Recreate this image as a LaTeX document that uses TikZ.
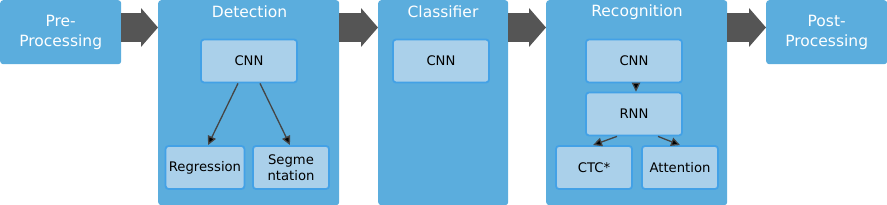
\documentclass[tikz,border=0pt]{standalone}
\usepackage{fontspec}
\setmainfont{DejaVu Sans}
\usetikzlibrary{arrows.meta,positioning,calc}
\definecolor{panelblue}{HTML}{5BADDD}
\definecolor{innerfill}{HTML}{AAD0EA}
\definecolor{innerline}{HTML}{43A1E6}
\definecolor{flowgray}{HTML}{555555}
\definecolor{linkgray}{HTML}{454545}

\begin{document}
\begin{tikzpicture}[x=1pt,y=-1pt,
  panel/.style={fill=panelblue,rounded corners=3pt,inner sep=0pt,anchor=north west},
  title/.style={text=white,font=\fontsize{15.5}{20}\selectfont,align=center},
  module/.style={fill=innerfill,draw=innerline,line width=1.8pt,rounded corners=3pt,
    minimum width=96pt,minimum height=43pt,font=\fontsize{13.2}{16}\selectfont,align=center},
  small/.style={module,minimum width=76pt},
  flow/.style={line width=29pt,flowgray,-{Triangle[length=17pt,width=38pt]}},
  link/.style={draw=linkgray,line width=1.3pt,-{Triangle[length=9pt,width=8.5pt,fill=black]}}]
\useasboundingbox (0,0) rectangle (887,205);
% stages
\node[panel,minimum width=121pt,minimum height=64pt] (pre) at (0,0) {};
\node[panel,minimum width=181pt,minimum height=205pt] (det) at (158,0) {};
\node[panel,minimum width=130pt,minimum height=205pt] (cls) at (378,0) {};
\node[panel,minimum width=181pt,minimum height=205pt] (rec) at (546,0) {};
\node[panel,minimum width=121pt,minimum height=64pt] (post) at (766,0) {};
\node[title] (pretxt) at (pre.center) {Pre-\\Processing};
\node[title] (posttxt) at (post.center) {Post-\\Processing};
\node[title] (dettxt) at (249.5,12) {Detection};
\node[title] (clstxt) at (443,12) {Classifier};
\node[title] (rectxt) at (637,12) {Recognition};
% flow between stages
\coordinate (lvl) at (0,27.5);
\draw[flow] (pre.east |- lvl) -- (det.west |- lvl);
\draw[flow] (det.east |- lvl) -- (cls.west |- lvl);
\draw[flow] (cls.east |- lvl) -- (rec.west |- lvl);
\draw[flow] (rec.east |- lvl) -- (post.west |- lvl);
% detection
\node[module] (dcnn) at (249,61) {CNN};
\node[small] (dreg) at (205,167.5) {Regression};
\node[small] (dseg) at (291,167.5) {Segme\\ntation};
\draw[link] ([xshift=-11pt]dcnn.south) -- ([xshift=3pt]dreg.north);
\draw[link] ([xshift=11pt]dcnn.south) -- ([xshift=-1pt]dseg.north);
% classifier
\node[module] (ccnn) at (441,61) {CNN};
% recognition
\node[module] (rcnn) at (634,61) {CNN};
\node[module] (rrnn) at (634,114) {RNN};
\node[small] (rctc) at (594,167.5) {CTC*};
\node[small] (ratt) at (680,167.5) {Attention};
\draw[link] ([xshift=2pt]rcnn.south) -- ([xshift=2pt]rrnn.north);
\draw[link] ([xshift=-17pt]rrnn.south) -- ([xshift=-1pt]rctc.north);
\draw[link] ([xshift=24pt]rrnn.south) -- (ratt.north);
\end{tikzpicture}
\end{document}
